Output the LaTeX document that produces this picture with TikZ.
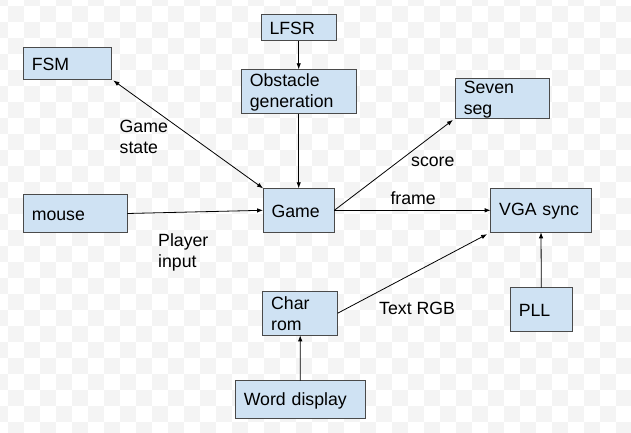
\documentclass[tikz,border=0pt]{standalone}
\usepackage{fontspec}
\setmainfont{Liberation Sans}
\usetikzlibrary{arrows.meta}
\definecolor{boxfill}{HTML}{CFE2F3}
\definecolor{boxline}{HTML}{4A4A4A}
\definecolor{chk}{HTML}{F4F4F4}
\newcommand\lnst{\vrule width 0pt height 15pt depth 1pt}
\tikzset{
  blk/.style={draw=boxline, fill=boxfill, line width=0.8pt, inner xsep=8.5pt, inner ysep=0pt,
    outer sep=0pt, align=left, font=\fontsize{17.7}{21}\selectfont},
  lbl/.style={inner sep=0pt, anchor=west, align=left, font=\fontsize{17.7}{21}\selectfont},
  conn/.style={line width=0.8pt, -{Latex[length=6pt,width=4.5pt]}},
  bconn/.style={line width=0.8pt, {Latex[length=6pt,width=4.5pt]}-{Latex[length=6pt,width=4.5pt]}}
}
\begin{document}
\begin{tikzpicture}[x=1pt,y=-1pt]
\useasboundingbox (0,0) rectangle (631,433);
\fill[white] (0,0) rectangle (631,433);
\begin{scope}
\clip (0,0) rectangle (631,433);
\foreach \i in {-1,...,39} {
  \foreach \j in {-1,...,26} {
    \pgfmathtruncatemacro\chks{mod(\i+\j+100,2)}
    \ifnum\chks=0 \fill[chk] (8+16*\i,6+16*\j) rectangle ++(16,16); \fi
  }
}
\end{scope}

\node[blk, minimum height=32pt, text width=71.4pt] (fsm) at (67.5,63.3) {\lnst FSM};
\node[blk, minimum height=38.4pt, text width=87pt] (mouse) at (75.3,213.5) {\lnst mouse};
\node[blk, minimum height=26pt, text width=58.3pt] (lfsr) at (298.7,27.7) {\lnst LFSR};
\node[blk, minimum height=44.4pt, text width=97.7pt] (obst) at (298.7,91.5) {\lnst Obstacle\\\lnst generation};
\node[blk, minimum height=38pt, text width=77pt] (seven) at (502.3,98.3) {\lnst Seven\\\lnst seg};
\node[blk, minimum height=44pt, text width=54.3pt] (game) at (298.7,210.3) {\lnst Game};
\node[blk, minimum height=44pt, text width=83.6pt] (vga) at (541,210.3) {\lnst VGA sync};
\node[blk, minimum height=44.3pt, text width=58pt] (char) at (300.2,313.2) {\lnst Char\\\lnst rom};
\node[blk, minimum height=38pt, text width=113pt] (word) at (300.3,399.7) {\lnst Word display};
\node[blk, minimum height=43.6pt, text width=45pt] (pll) at (541.3,309.5) {\lnst PLL};

\draw[conn] (lfsr.south) -- (obst.north);
\draw[conn] (obst.south) -- (game.north);
\draw[bconn, shorten <=2pt] (fsm.south east) -- (game.north west);
\draw[conn] (mouse.east) -- (game.west);
\draw[conn, shorten >=3pt] (game.east) -- (seven.south west);
\draw[conn] (game.east) -- (vga.west);
\draw[conn, shorten >=4pt] (char.east) -- (vga.south west);
\draw[conn] (pll.north) -- (vga.south);
\draw[conn] (word.north) -- (char.south);

\node[lbl] (lgs) at (119.5,136.2) {\lnst Game\\\lnst state};
\node[lbl] (lpi) at (158,251.2) {\lnst Player\\\lnst input};
\node[lbl] (lsc) at (411,159.7) {\lnst score};
\node[lbl] (lfr) at (390.3,197.7) {\lnst frame};
\node[lbl] (ltr) at (379,307.3) {\lnst Text RGB};
\end{tikzpicture}
\end{document}
